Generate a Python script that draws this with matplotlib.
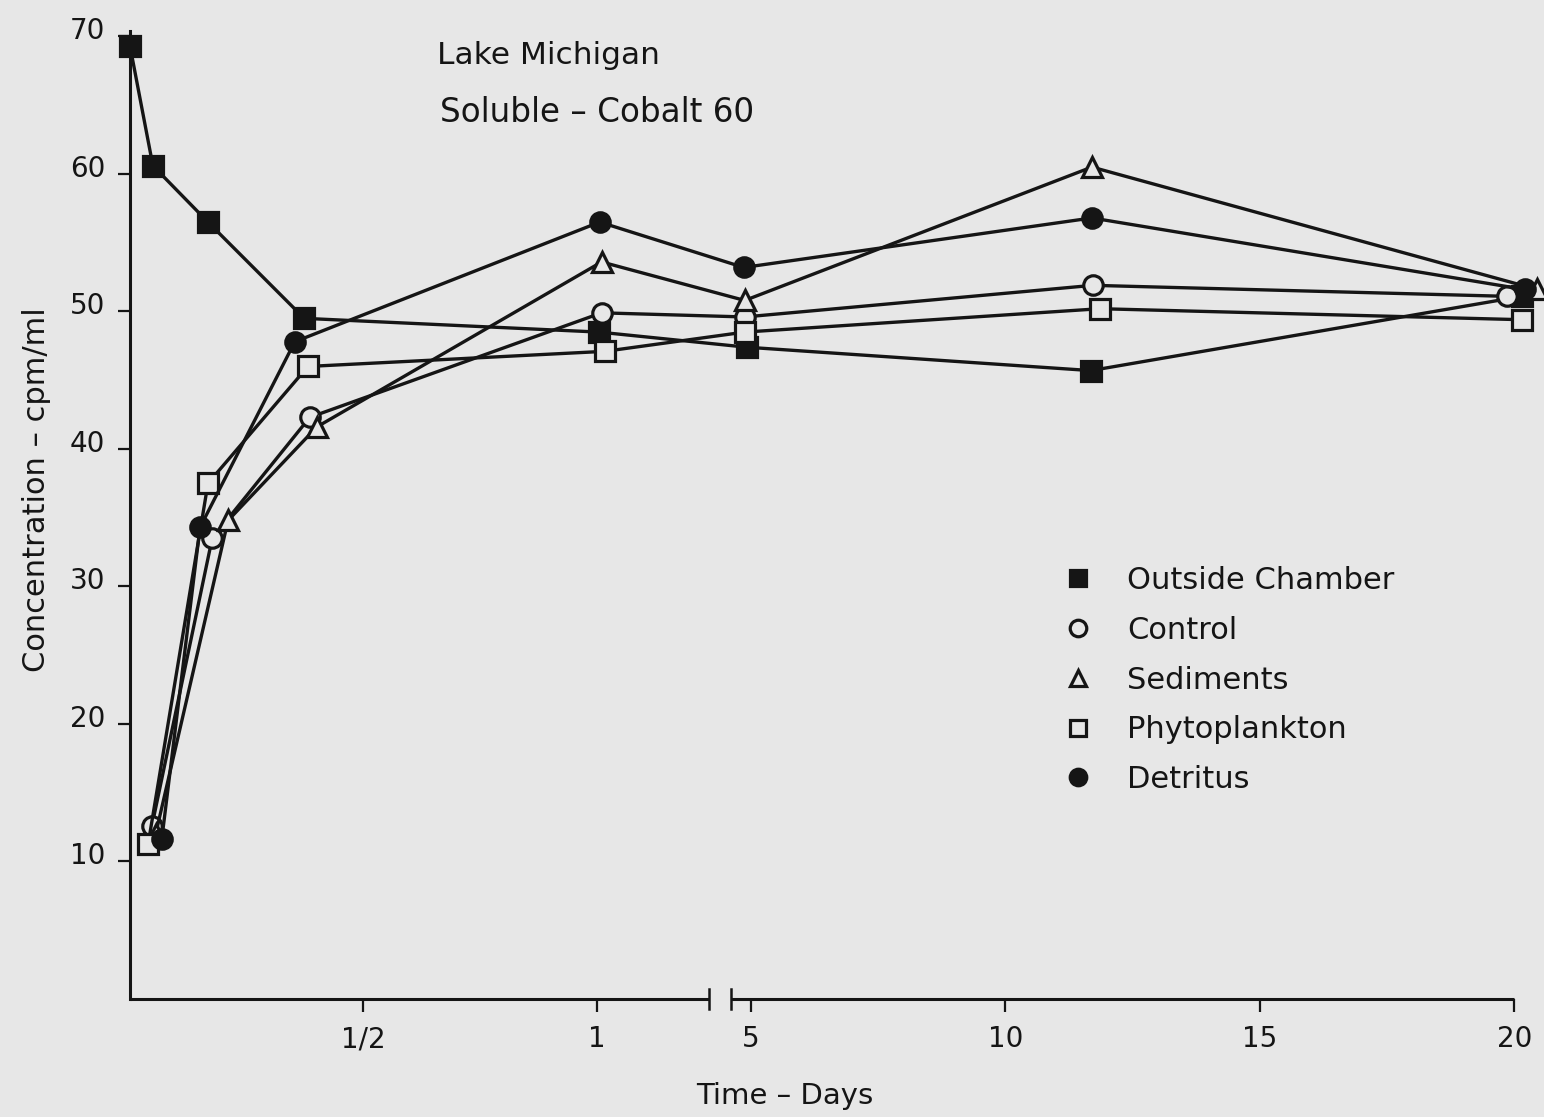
import numpy as np
import matplotlib
matplotlib.use("Agg")
import matplotlib.pyplot as plt
import matplotlib.transforms as mtransforms

# sampling times (days) and concentrations (cpm/ml) for each treatment
t_outside = [0.0, 0.049, 0.167, 0.373, 1.004, 4.92, 11.68, 20.15]
c_outside = [69.3, 60.6, 56.5, 49.5, 48.5, 47.4, 45.7, 51.1]

t_control = [0.047, 0.176, 0.385, 1.01, 4.88, 11.72, 19.85]
c_control = [12.6, 33.5, 42.3, 49.9, 49.6, 51.9, 51.1]

t_sediments = [0.055, 0.21, 0.40, 1.01, 4.88, 11.70, 20.45]
c_sediments = [12.0, 34.8, 41.6, 53.6, 50.8, 60.5, 51.6]

t_phyto = [0.039, 0.167, 0.381, 1.017, 4.88, 11.86, 20.15]
c_phyto = [11.3, 37.5, 46.0, 47.1, 48.5, 50.2, 49.4]

t_detritus = [0.068, 0.15, 0.353, 1.006, 4.86, 11.70, 20.20]
c_detritus = [11.6, 34.3, 47.8, 56.5, 53.2, 56.8, 51.6]

xtick_pos = [0.5, 1, 5, 10, 15, 20]
xtick_labels = ["1/2", "1", "5", "10", "15", "20"]
ytick_pos = [10, 20, 30, 40, 50, 60, 70]

BG = "#e7e7e7"
INK = "#151515"

# broken time axis: first day stretched, gap, then linear 5..20 days
BREAK_LO, BREAK_HI = 1.24, 4.61
T_KNOTS = np.array([-10.0, 0.0, BREAK_LO, BREAK_HI, 100.0])
P_KNOTS = np.array([-4670.0, 0.0, 579.0, 601.0, 601.0 + 50.9 * (100.0 - BREAK_HI)])


def fwd(t):
    return np.interp(t, T_KNOTS, P_KNOTS)


def inv(p):
    return np.interp(p, P_KNOTS, T_KNOTS)


plt.rcParams["font.family"] = "DejaVu Sans"
fig = plt.figure(figsize=(15.44, 11.17), dpi=100, facecolor=BG)
ax = fig.add_axes([130 / 1544, 118 / 1117, 1414 / 1544, 999 / 1117])
ax.set_facecolor(BG)
ax.set_xscale("function", functions=(fwd, inv))
ax.set_xlim(0, inv(1414))
ax.set_ylim(0, 72.65)

style = dict(color=INK, lw=2.4, markersize=14, markeredgewidth=2.3,
             markeredgecolor=INK, clip_on=False)
ax.plot(t_outside, c_outside, marker="s", markerfacecolor=INK,
        label="Outside Chamber", **style)
ax.plot(t_control, c_control, marker="o", markerfacecolor=BG,
        label="Control", **style)
ax.plot(t_sediments, c_sediments, marker="^", markerfacecolor=BG,
        label="Sediments", **style)
ax.plot(t_phyto, c_phyto, marker="s", markerfacecolor=BG,
        label="Phytoplankton", **style)
ax.plot(t_detritus, c_detritus, marker="o", markerfacecolor=INK,
        label="Detritus", **style)

# axes lines
for s in ["top", "right", "bottom"]:
    ax.spines[s].set_visible(False)
ax.spines["left"].set_bounds(0, 70.4)
ax.spines["left"].set_linewidth(2.2)
ax.spines["left"].set_color(INK)
axis_kw = dict(color=INK, lw=2.2, clip_on=False, solid_capstyle="butt")
ax.plot([0, BREAK_LO], [0, 0], **axis_kw)
ax.plot([BREAK_HI, 20], [0, 0], **axis_kw)
for xb in (BREAK_LO, BREAK_HI):
    ax.plot([xb, xb], [-0.7, 0.7], color=INK, lw=1.8, clip_on=False)

ax.set_xticks(xtick_pos)
ax.set_xticklabels(xtick_labels)
ax.set_yticks(ytick_pos)
ax.set_yticklabels([str(v) for v in ytick_pos])
ax.minorticks_off()
ax.tick_params(axis="both", direction="out", length=9, width=1.6,
               color=INK, labelcolor=INK, labelsize=20)
ax.tick_params(axis="x", pad=10)
ax.tick_params(axis="y", pad=9)

# hand-lettered y labels sit a little above their ticks
shift = mtransforms.ScaledTranslation(0, 8 / 100, fig.dpi_scale_trans)
for lab in ax.get_yticklabels():
    lab.set_transform(lab.get_transform() + shift)

ax.set_xlabel("Time – Days", fontsize=21, color=INK)
ax.xaxis.set_label_coords(0.463, -0.083)
ax.set_ylabel("Concentration – cpm/ml", fontsize=22, color=INK)
ax.yaxis.set_label_coords(-0.056, 0.51)

fig.text(437 / 1544, 1 - 55 / 1117, "Lake Michigan", fontsize=22.5,
         color=INK, va="center", ha="left")
fig.text(440 / 1544, 1 - 112 / 1117, "Soluble – Cobalt 60", fontsize=23.5,
         color=INK, va="center", ha="left")

leg = ax.legend(loc="upper left", bbox_to_anchor=(1078 / 1544, 1 - 566 / 1117),
                bbox_transform=fig.transFigure, frameon=False, fontsize=22,
                handlelength=0, handletextpad=1.6, labelspacing=0.68,
                borderpad=0, borderaxespad=0, numpoints=1, markerscale=0.85)
for txt in leg.get_texts():
    txt.set_color(INK)

fig.savefig("out.png", dpi=100, facecolor=BG)
